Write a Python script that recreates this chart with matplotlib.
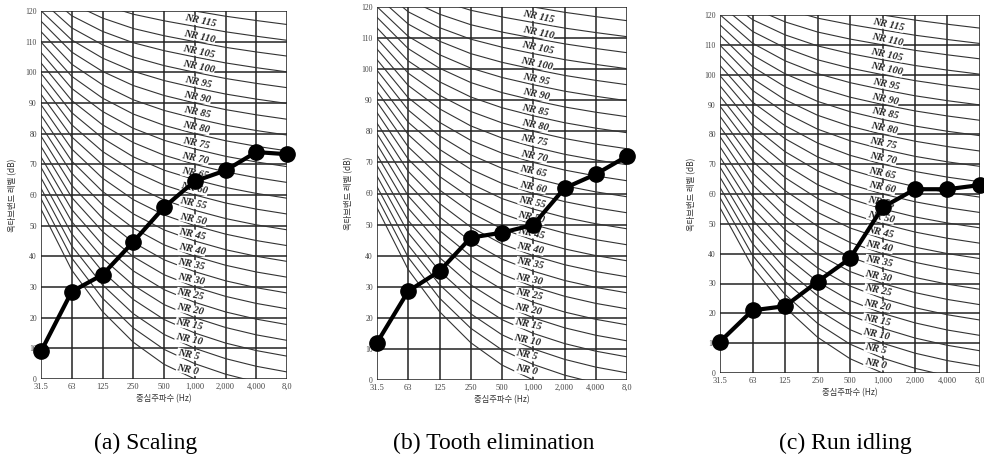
import matplotlib.pyplot as plt
import numpy as np

plt.rcParams['font.family'] = ['Liberation Serif', 'Noto Sans CJK KR', 'DejaVu Sans']

# octave band centre frequencies
bands = ["31.5", "63", "125", "250", "500", "1,000", "2,000", "4,000", "8,0"]

# NR curve coefficients per band (L = a + b * NR)
nr_a = [55.4, 35.5, 22.0, 12.0, 4.8, 0.0, -3.5, -6.1, -8.0]
nr_b = [0.681, 0.790, 0.870, 0.930, 0.974, 1.000, 1.015, 1.025, 1.030]
nr_labeled = list(range(0, 120, 5))
nr_extra = [120, 125, 130]

# measured octave band levels (dB)
scaling = [9, 28.5, 34, 44.7, 56, 64.5, 68, 74, 73.3]
tooth = [12, 28.6, 35, 45.8, 47.4, 49.9, 61.7, 66.2, 72]
idling = [10.5, 21, 22.4, 30.6, 38.4, 55.5, 61.6, 61.6, 63]

panels = [
    ("(a) Scaling", scaling, [41, 287, 11, 379], 146),
    ("(b) Tooth elimination", tooth, [377, 627, 7, 380], 494),
    ("(c) Run idling", idling, [720, 980, 15, 373], 845),
]

W, H = 984, 463
fig = plt.figure(figsize=(W / 100, H / 100), dpi=100)

x = np.arange(len(bands))
a = np.array(nr_a)
b = np.array(nr_b)

for caption, vals, (x0, x1, y0, y1), cx in panels:
    ax = fig.add_axes([x0 / W, 1 - y1 / H, (x1 - x0) / W, (y1 - y0) / H])
    ax.set_xlim(0, len(bands) - 1)
    ax.set_ylim(0, 120)

    # grid
    for xi in x:
        ax.axvline(xi, color='#222222', lw=1.1, zorder=1)
    for yv in range(0, 121, 10):
        ax.axhline(yv, color='#222222', lw=1.1, zorder=1)

    # NR curves
    for nr in nr_labeled + nr_extra:
        ax.plot(x, a + b * nr, color='#333333', lw=0.8, zorder=2)

    # NR labels
    for nr in nr_labeled:
        lx = 4.77 + 0.4 * nr / 115
        ly = np.interp(lx, x, a + b * nr) + 2.0
        ax.text(lx, ly, "NR " + str(nr), fontsize=7.5, style='italic',
                fontweight='bold', rotation=-12, ha='center', va='center',
                color='#222222', zorder=3,
                bbox=dict(facecolor='white', edgecolor='none', pad=0.2))

    ax.plot(x, vals, color='black', lw=3, marker='o', markersize=11,
            clip_on=False, zorder=5)

    for s in ax.spines.values():
        s.set_visible(False)
    ax.set_xticks(x)
    ax.set_xticklabels(bands, fontsize=6, color='#444444')
    ax.set_yticks(range(0, 121, 10))
    ax.set_yticklabels([str(v) for v in range(0, 121, 10)], fontsize=5.5,
                       color='#444444')
    ax.tick_params(length=0, pad=3)
    ax.set_xlabel("중심주파수 (Hz)", fontsize=6, color='#333333',
                  family=['Noto Sans CJK KR', 'DejaVu Sans'], labelpad=2)
    ax.set_ylabel("옥타브밴드 레벨 (dB)", fontsize=6, color='#333333',
                  family=['Noto Sans CJK KR', 'DejaVu Sans'], labelpad=6)

    fig.text(cx / W, 1 - 443 / H, caption, fontsize=17, ha='center',
             va='center', family='Liberation Serif')

fig.savefig("out.png", dpi=100)
